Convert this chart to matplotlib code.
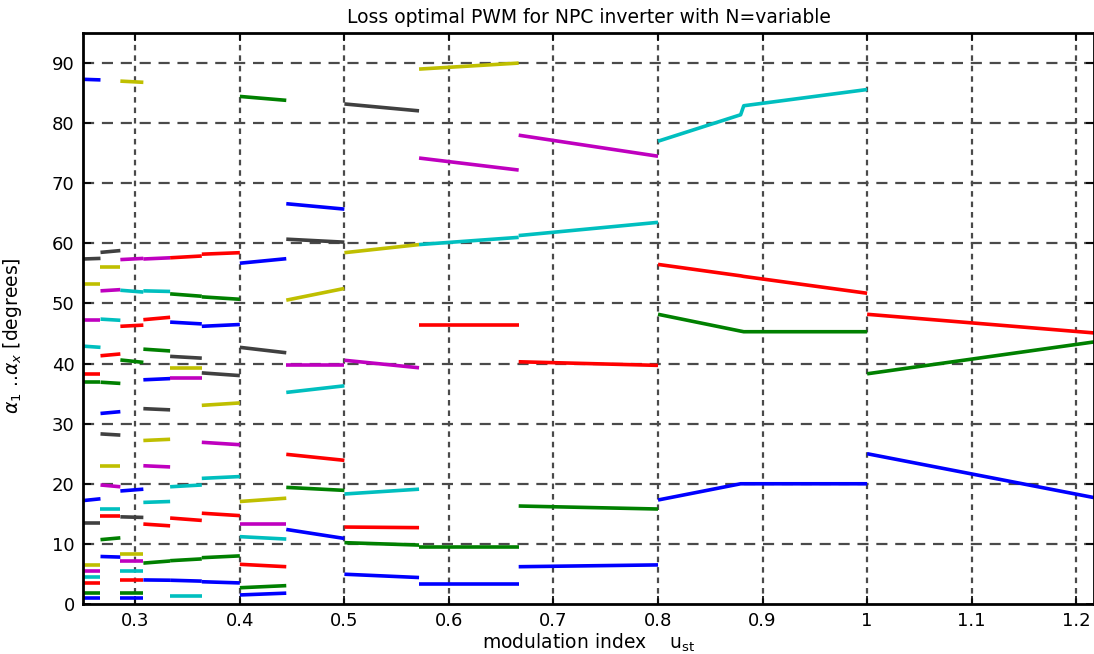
import matplotlib
matplotlib.use("Agg")
import matplotlib.pyplot as plt

plt.rcParams['font.family'] = ['DejaVu Sans']
plt.rcParams['mathtext.fontset'] = 'custom'
plt.rcParams['mathtext.rm'] = 'DejaVu Sans'
plt.rcParams['mathtext.it'] = 'DejaVu Sans:italic'

# Modulation-index intervals, each with its own number of switching angles N
m_bounds = [0.25, 0.2667, 0.2857, 0.3077, 0.3333, 0.3636, 0.4,
            0.4444, 0.5, 0.5714, 0.6667, 0.8, 1.0, 1.217]

# Switching angles alpha_1 .. alpha_N (degrees) at the left / right end of each interval
alpha_n15 = ([0.95, 1.8, 3.45, 4.45, 5.55, 6.5, 13.45, 17.2, 36.9, 38.3, 42.9, 47.3, 53.2, 57.4, 87.3],
             [0.95, 1.8, 3.45, 4.45, 5.55, 6.5, 13.45, 17.5, 36.9, 38.3, 42.7, 47.3, 53.2, 57.5, 87.2])
alpha_n14 = ([7.9, 10.7, 14.7, 15.8, 19.8, 22.9, 28.3, 31.7, 36.9, 41.3, 47.4, 52.1, 56.1, 58.5],
             [7.8, 11.0, 14.7, 15.8, 19.5, 22.9, 28.1, 32.0, 36.7, 41.6, 47.2, 52.3, 56.1, 58.8])
alpha_n13 = ([0.95, 1.8, 4.0, 5.55, 7.2, 8.3, 14.5, 18.8, 40.6, 46.2, 52.2, 57.3, 87.0],
             [0.95, 1.8, 4.0, 5.55, 7.2, 8.3, 14.4, 19.1, 40.2, 46.4, 51.9, 57.5, 86.8])
alpha_n12 = ([4.0, 6.8, 13.3, 16.9, 23.0, 27.2, 32.5, 37.3, 42.4, 47.3, 52.1, 57.4],
             [3.95, 7.15, 13.0, 17.05, 22.8, 27.4, 32.3, 37.5, 42.1, 47.7, 52.0, 57.6])
alpha_n11 = ([3.95, 7.2, 14.3, 19.5, 37.6, 39.3, 41.2, 46.9, 51.6, 57.6, 1.4],
             [3.8, 7.5, 13.9, 19.8, 37.6, 39.3, 40.9, 46.6, 51.2, 57.9, 1.4])
alpha_n10 = ([3.7, 7.7, 15.1, 20.9, 26.9, 33.05, 38.45, 46.2, 51.1, 58.2],
             [3.5, 8.0, 14.7, 21.2, 26.5, 33.45, 38.0, 46.5, 50.7, 58.45])
alpha_n9 = ([1.5, 2.7, 6.6, 11.2, 13.3, 17.05, 42.7, 56.7, 84.45],
            [1.8, 3.05, 6.2, 10.8, 13.3, 17.6, 41.8, 57.45, 83.8])
alpha_n8 = ([12.4, 19.4, 24.9, 35.2, 39.7, 50.55, 60.7, 66.6],
            [10.9, 18.9, 23.9, 36.3, 39.7, 52.5, 60.2, 65.7])
alpha_n7 = ([4.95, 10.2, 12.8, 18.3, 40.55, 58.45, 83.2],
            [4.4, 9.8, 12.7, 19.1, 39.3, 59.8, 82.05])
alpha_n6 = ([3.3, 9.5, 46.5, 59.8, 74.2, 89.0],
            [3.3, 9.5, 46.5, 61.0, 72.2, 90.0])
alpha_n5 = ([6.2, 16.3, 40.3, 61.3, 78.0],
            [6.5, 15.8, 39.7, 63.5, 74.5])
# N = 4 has a knee inside its interval
m_knee_n4 = [0.8, 0.879, 0.882, 1.0]
alpha_n4 = ([17.3, 20.0, 20.0, 20.0],
            [48.2, 45.4, 45.3, 45.3],
            [56.5, 54.6, 54.5, 51.7],
            [77.0, 81.4, 82.9, 85.6])
alpha_n3 = ([25.0, 38.3, 48.2],
            [17.7, 43.6, 45.1])

line_colors = [(0, 0, 1), (0, 0.5, 0), (1, 0, 0), (0, 0.75, 0.75),
               (0.75, 0, 0.75), (0.75, 0.75, 0), (0.25, 0.25, 0.25)]

fig = plt.figure(figsize=(10.94, 6.54), dpi=100)
ax = fig.add_axes([0.0759, 0.0765, 0.9241, 0.873])

lw = 2.6
straight_sets = [alpha_n15, alpha_n14, alpha_n13, alpha_n12, alpha_n11, alpha_n10,
                 alpha_n9, alpha_n8, alpha_n7, alpha_n6, alpha_n5]
for k, (a_left, a_right) in enumerate(straight_sets):
    m0, m1 = m_bounds[k], m_bounds[k + 1]
    for i, (y0, y1) in enumerate(zip(a_left, a_right)):
        ax.plot([m0, m1], [y0, y1], color=line_colors[i % 7], lw=lw,
                solid_capstyle='butt')

for i, ys in enumerate(alpha_n4):
    ax.plot(m_knee_n4, ys, color=line_colors[i % 7], lw=lw, solid_capstyle='butt')

for i, (y0, y1) in enumerate(zip(*alpha_n3)):
    ax.plot([m_bounds[12], m_bounds[13]], [y0, y1], color=line_colors[i % 7], lw=lw,
            solid_capstyle='butt')

ax.set_xlim(0.25, 1.217)
ax.set_ylim(0, 95)
xt = [0.3, 0.4, 0.5, 0.6, 0.7, 0.8, 0.9, 1.0, 1.1, 1.2]
ax.set_xticks(xt)
ax.set_xticklabels(['0.3', '0.4', '0.5', '0.6', '0.7', '0.8', '0.9', '1', '1.1', '1.2'])
ax.set_yticks(range(0, 91, 10))

ax.tick_params(direction='in', length=6, width=1.2, top=True, right=True,
               labelsize=13, pad=6, colors='black')
for s in ax.spines.values():
    s.set_linewidth(2.0)
    s.set_color('black')

for x in xt:
    ax.axvline(x, color='#4a4a4a', lw=1.6, ls=(0, (2.5, 2.2)), zorder=0.5)
for y in range(10, 91, 10):
    ax.axhline(y, color='#4a4a4a', lw=1.6, ls=(0, (5, 3.5)), zorder=0.5)

ax.set_title('Loss optimal PWM for NPC inverter with N=variable', fontsize=13.5, pad=7)
ax.set_xlabel(r'modulation index    u$_{\mathrm{st}}$', fontsize=13.5, labelpad=1)
ax.set_ylabel(r'$\alpha_1$ ..$\alpha_x$ [degrees]', fontsize=13.5)
ax.yaxis.set_label_coords(-0.058, 0.47)

fig.savefig('out.png', dpi=100)
